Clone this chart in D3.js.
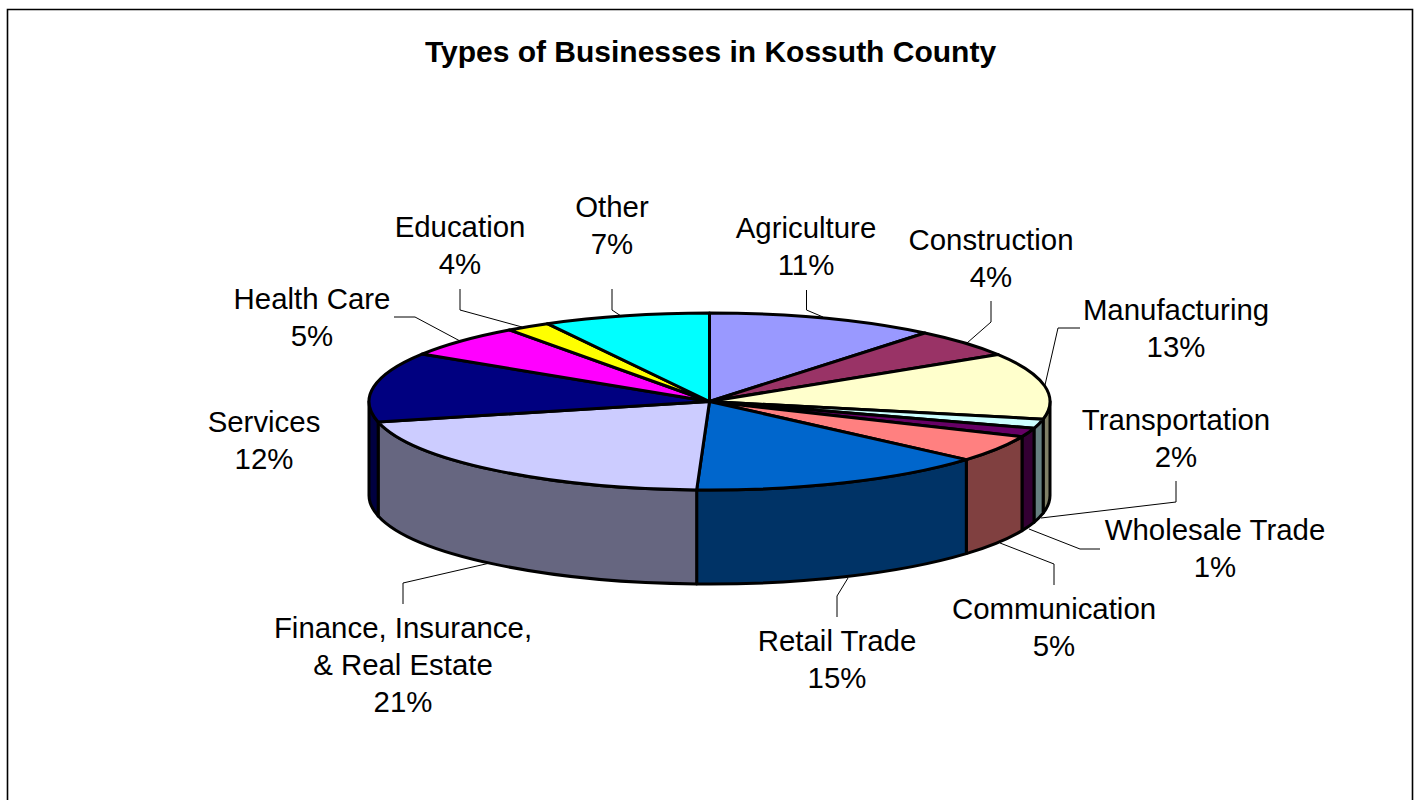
<!DOCTYPE html>
<html>
<head>
<meta charset="utf-8">
<style>
html,body{margin:0;padding:0;background:#fff;overflow:hidden}
svg{display:block}
text{font-family:"Liberation Sans",Arial,sans-serif;fill:#000}
</style>
<script src="https://cdn.jsdelivr.net/npm/d3@7"></script>
</head>
<body>
<svg id="c" width="1417" height="800"></svg>
<script>
const title = "Types of Businesses in Kossuth County";
const categories = ["Agriculture","Construction","Manufacturing","Transportation","Wholesale Trade","Communication","Retail Trade","Finance, Insurance,|& Real Estate","Services","Health Care","Education","Other"];
const shares = [10.9,5.2,12.1,1.7,1.6,4.9,14.2,20.7,12.7,6.0,2.1,7.9];
const percentLabels = ["11%","4%","13%","2%","1%","5%","15%","21%","12%","5%","4%","7%"];
const topColors = ["#9999FF","#993366","#FFFFCC","#CCFFFF","#660066","#FF8080","#0066CC","#CCCCFF","#000080","#FF00FF","#FFFF00","#00FFFF"];
const wallColors = ["#4D4D80","#4D1A33","#808066","#668080","#330033","#804040","#003366","#666680","#000040","#800080","#808000","#008080"];

// layout
const cx = 709.5, cy = 401.5, rx = 340.5, ry = 88.5, depth = 94;
const labelAnchors = [[806,228],[991,240],[1176,310],[1176,420],[1215,530],[1054,609],[837,641],[403,628],[264,422],[312,299],[460,227],[612,207]];
const leaders = [
  [[806.5,290],[806.5,310],[823,317]],
  [[991,301],[991,322],[967,343]],
  [[1080,328],[1058,328],[1045,385]],
  [[1176,481],[1176,502],[1041,518]],
  [[1100,549],[1080,549],[1029,529]],
  [[1054,585],[1054,564],[1000,543]],
  [[837,617],[837,596],[848,578]],
  [[403,604],[403,583],[490,563]],
  null,
  [[394,317],[415,317],[460,341]],
  [[460,289],[460,310],[522,327]],
  [[612,289],[612,310],[621,316]]
];

const svg = d3.select("#c");
const ex = a => cx + rx * Math.sin(a);
const ey = a => cy - ry * Math.cos(a);
const pie = d3.pie().sort(null).value(d => d)(shares);

// frame (open at the bottom)
svg.append("path").attr("d","M7.5,800V9.5H1412.5V800").attr("fill","none").attr("stroke","#000").attr("stroke-width",1.6);

// title
svg.append("text").attr("x",710.5).attr("y",62).attr("text-anchor","middle")
  .attr("font-size",30).attr("font-weight","bold").text(title);

// side walls: only the front half of the rim (90deg to 270deg) is visible
const lo = Math.PI/2, hi = 3*Math.PI/2;
const walls = pie.filter(d => d.endAngle > lo && d.startAngle < hi);
svg.append("g").selectAll("path").data(walls).join("path")
  .attr("d", d => {
    const a0 = Math.max(d.startAngle, lo), a1 = Math.min(d.endAngle, hi);
    return `M${ex(a0)},${ey(a0)}A${rx},${ry} 0 0 1 ${ex(a1)},${ey(a1)}`
      + `L${ex(a1)},${ey(a1)+depth}A${rx},${ry} 0 0 0 ${ex(a0)},${ey(a0)+depth}Z`;
  })
  .attr("fill", d => wallColors[d.index])
  .attr("stroke","#000").attr("stroke-width",3).attr("stroke-linejoin","round");

// top face
svg.append("g").selectAll("path").data(pie).join("path")
  .attr("d", d => {
    const large = d.endAngle - d.startAngle > Math.PI ? 1 : 0;
    return `M${cx},${cy}L${ex(d.startAngle)},${ey(d.startAngle)}A${rx},${ry} 0 ${large} 1 ${ex(d.endAngle)},${ey(d.endAngle)}Z`;
  })
  .attr("fill", d => topColors[d.index])
  .attr("stroke","#000").attr("stroke-width",3).attr("stroke-linejoin","round");

// leader lines
const line = d3.line();
svg.append("g").selectAll("path").data(leaders.filter(Boolean)).join("path")
  .attr("d", line).attr("fill","none").attr("stroke","#000").attr("stroke-width",1);

// labels
const lineStep = 37;
const labelGroup = svg.append("g");
categories.forEach((c,i) => {
  const lines = c.split("|").concat(percentLabels[i]);
  const [x,y] = labelAnchors[i];
  const t = labelGroup.append("text").attr("text-anchor","middle").attr("font-size",29.4);
  lines.forEach((s,j) => t.append("tspan").attr("x",x).attr("y",y + 10 + j*lineStep).text(s));
});
</script>
</body>
</html>
